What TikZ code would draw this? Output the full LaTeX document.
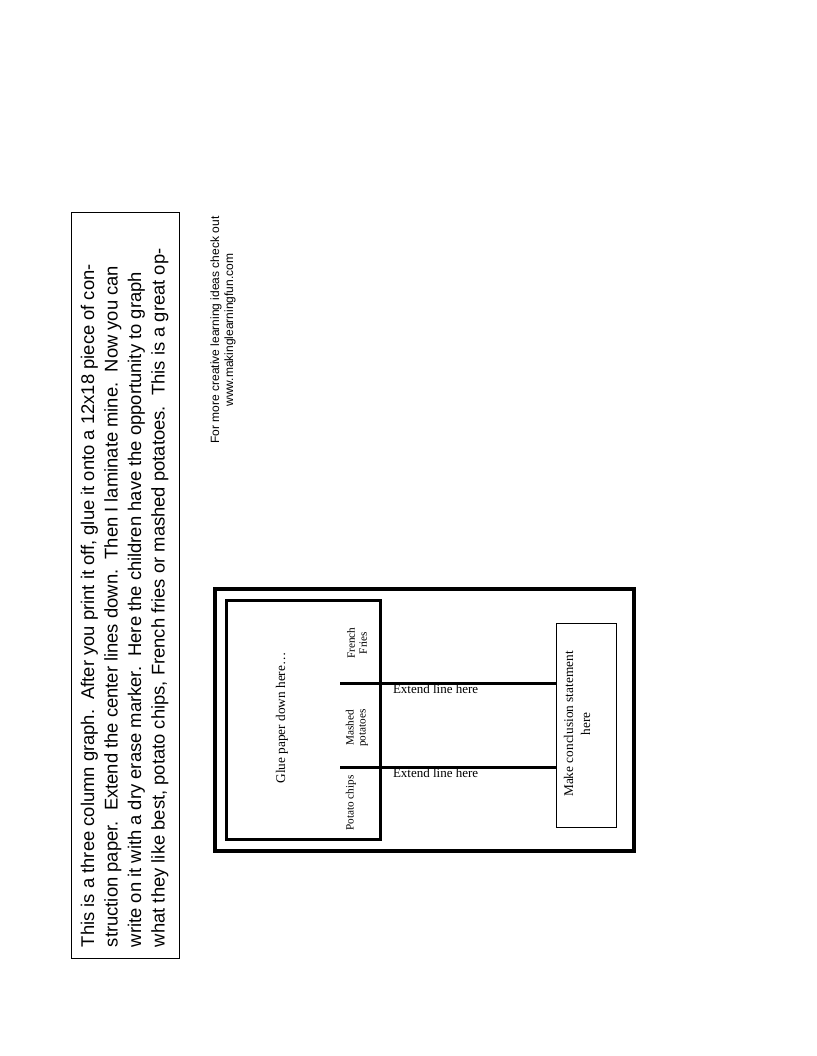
\documentclass[tikz,border=0pt]{standalone}
\usepackage{fontspec}
\setmainfont{Liberation Serif}
\newfontfamily\arialf{Liberation Sans}
\begin{document}
\begin{tikzpicture}[x=1pt,y=-1pt,
  every node/.style={inner sep=0pt, outer sep=0pt},
  notetext/.style={rotate=90, anchor=base west, font=\arialf\fontsize{18.4}{20}\selectfont},
  foottext/.style={rotate=90, anchor=base, font=\arialf\fontsize{12}{13}\selectfont},
  lbl/.style={rotate=90, align=center, font=\fontsize{13.3}{17}\selectfont},
  collbl/.style={rotate=90, align=center, font=\fontsize{11.2}{12}\selectfont},
  extlbl/.style={anchor=base west, font=\fontsize{13}{15}\selectfont},
  thinbox/.style={draw, line width=1pt},
  heavyline/.style={line width=3pt}]
\useasboundingbox (0,0) rectangle (816,1056);
% note box
\node[thinbox, minimum width=108pt, minimum height=746pt] (note) at (125.5,585.5) {};
\node[notetext] (n1) at (94,947) {This is a three column graph.\ \ After you print it off, glue it onto a 12x18 piece of con-};
\node[notetext] (n2) at (117.5,947) {struction paper.\ \ Extend the center lines down.\ \ Then I laminate mine.\ \ Now you can};
\node[notetext] (n3) at (141,947) {write on it with a dry erase marker.\ \ Here the children have the opportunity to graph};
\node[notetext] (n4) at (164.5,947) {what they like best, potato chips, French fries or mashed potatoes.\ \ This is a great op-};
% footer
\node[foottext] (f1) at (219,330) {For more creative learning ideas check out};
\node[foottext] (f2) at (233,330) {www.makinglearningfun.com};
% frames
\node[draw, line width=4pt, minimum width=419.2pt, minimum height=262.6pt] (outer) at (424.1,720) {};
\node[draw, line width=3pt, minimum width=154pt, minimum height=238.3pt] (glue) at (303.7,719.85) {};
\node[thinbox, minimum width=59.3pt, minimum height=204pt] (concl) at (586.35,725.3) {};
% labels
\node[lbl] (gluelbl) at (282,718) {Glue paper down here…};
\node[collbl] (ff) at (357,643) {French\\Fries};
\node[collbl] (mp) at (357,728) {Mashed\\potatoes};
\node[collbl] (pc) at (351,803) {Potato chips};
\node[lbl] (concllbl) at (577,724) {Make conclusion statement\\here};
% lines
\coordinate (l1) at (340,683.3);
\coordinate (l2) at (340,767.3);
\draw[heavyline] (l1) -- (concl.west |- l1);
\draw[heavyline] (l2) -- (concl.west |- l2);
\node[extlbl] (e1) at (393,693) {Extend line here};
\node[extlbl] (e2) at (393,777) {Extend line here};
\end{tikzpicture}
\end{document}
